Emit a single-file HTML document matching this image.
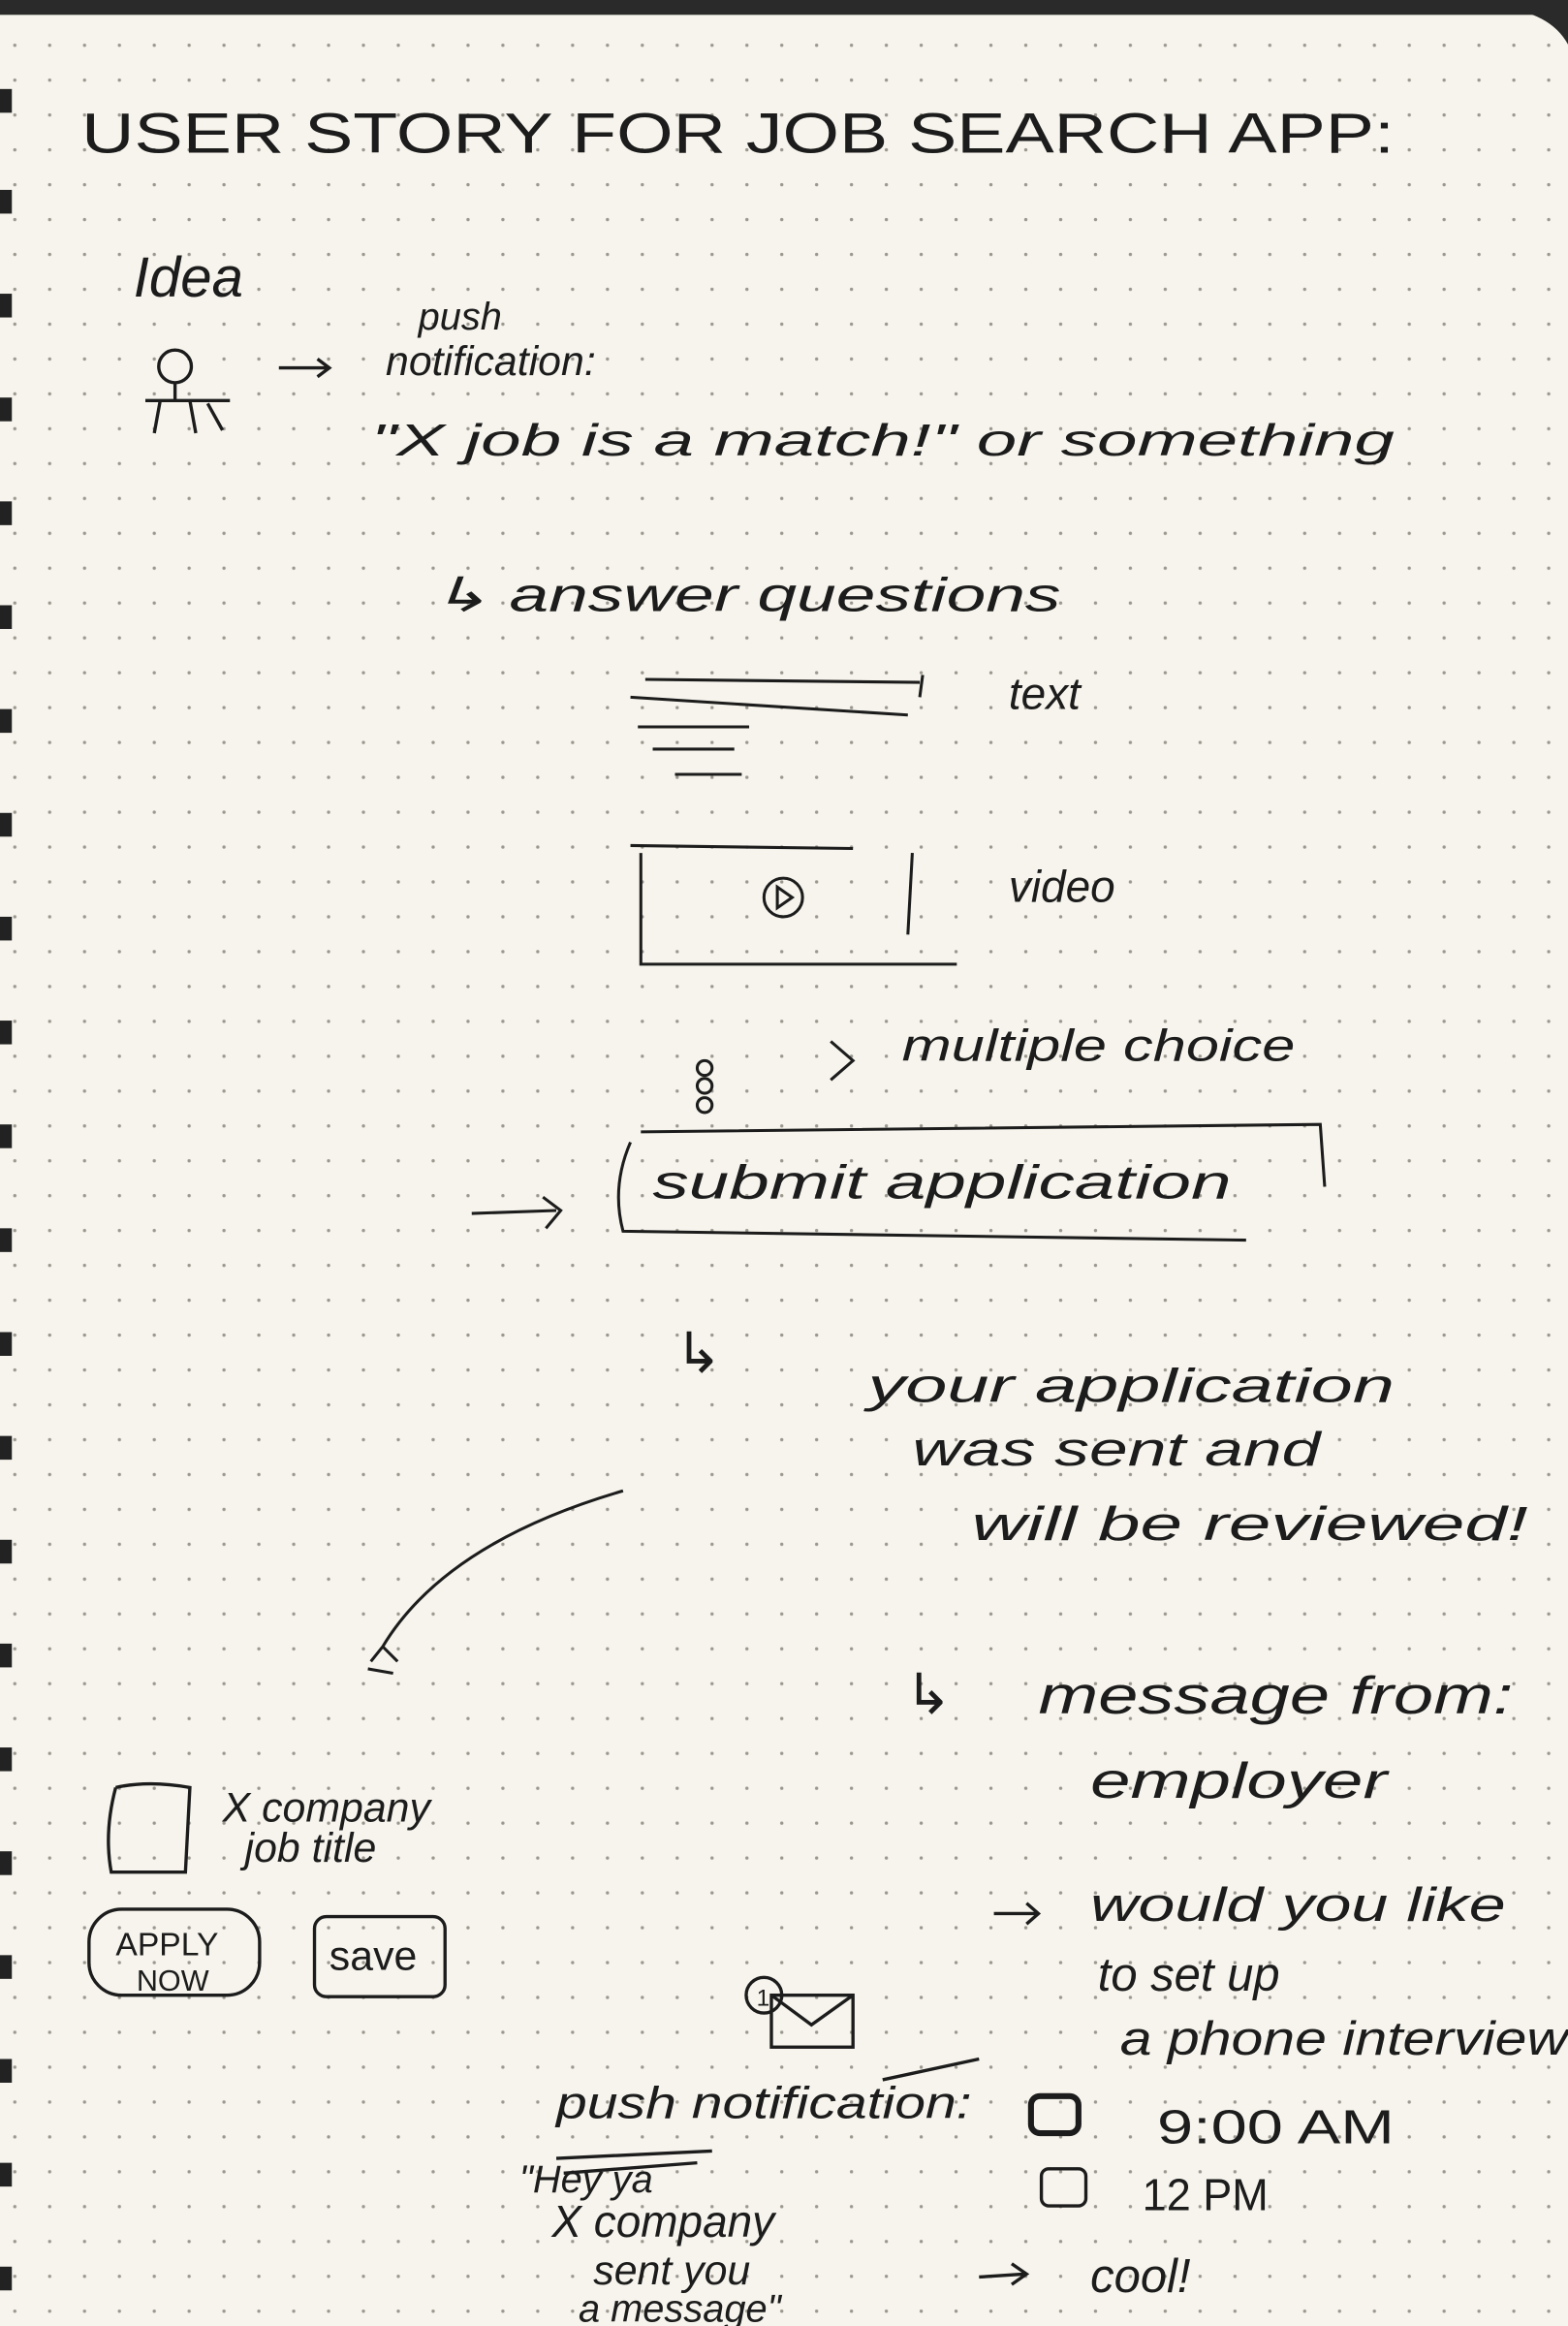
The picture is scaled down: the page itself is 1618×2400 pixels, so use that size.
<!DOCTYPE html>
<html><head><meta charset="utf-8"><style>
html,body{margin:0;padding:0;background:#f6f4ec;}
svg{display:block}
text{font-family:"Liberation Sans",sans-serif;fill:#1c1c1c;}
</style></head><body>
<svg width="1618" height="2400" viewBox="0 0 1057 1568" preserveAspectRatio="none" xmlns="http://www.w3.org/2000/svg">
<defs>
<pattern id="dots" x="8" y="5" width="23.5" height="23.5" patternUnits="userSpaceOnUse">
<circle cx="2" cy="2" r="1.1" fill="#9a978f"/>
</pattern>
</defs>
<rect width="1057" height="1568" fill="#f6f4ec"/>
<rect width="1057" height="1568" fill="url(#dots)"/>
<rect x="0" y="0" width="1057" height="10" fill="#2a2a2a"/>
<path d="M1010 0 L1057 0 L1057 30 Q1045 8 1010 5Z" fill="#2a2a2a"/>
<g fill="#222">
<rect x="0" y="60" width="8" height="16"/><rect x="0" y="128" width="8" height="16"/><rect x="0" y="198" width="8" height="16"/><rect x="0" y="268" width="8" height="16"/><rect x="0" y="338" width="8" height="16"/><rect x="0" y="408" width="8" height="16"/><rect x="0" y="478" width="8" height="16"/><rect x="0" y="548" width="8" height="16"/><rect x="0" y="618" width="8" height="16"/><rect x="0" y="688" width="8" height="16"/><rect x="0" y="758" width="8" height="16"/><rect x="0" y="828" width="8" height="16"/><rect x="0" y="898" width="8" height="16"/><rect x="0" y="968" width="8" height="16"/><rect x="0" y="1038" width="8" height="16"/><rect x="0" y="1108" width="8" height="16"/><rect x="0" y="1178" width="8" height="16"/><rect x="0" y="1248" width="8" height="16"/><rect x="0" y="1318" width="8" height="16"/><rect x="0" y="1388" width="8" height="16"/><rect x="0" y="1458" width="8" height="16"/><rect x="0" y="1528" width="8" height="16"/>
</g>

<text x="55" y="103" font-size="38" textLength="885" lengthAdjust="spacingAndGlyphs">USER STORY FOR JOB SEARCH APP:</text>
<text x="90" y="200" font-size="38" font-style="italic">Idea</text>
<!-- person -->
<g stroke="#1c1c1c" stroke-width="2.2" fill="none">
<circle cx="118" cy="247" r="11"/>
<path d="M118 258 L118 270 M98 270 L155 270 M108 270 L104 292 M128 270 L132 292 M140 272 L150 290"/>
<path d="M188 248 L222 248 M214 242 L222 248 L214 254"/>
</g>
<text x="282" y="222" font-size="26" font-style="italic">push</text>
<text x="260" y="253" font-size="28" font-style="italic">notification:</text>
<text x="250" y="307" font-size="30" font-style="italic" textLength="690" lengthAdjust="spacingAndGlyphs">"X job is a match!" or something</text>

<text x="290" y="412" font-size="32" font-style="italic" textLength="425" lengthAdjust="spacingAndGlyphs">↳ answer questions</text>
<g stroke="#1c1c1c" stroke-width="2" fill="none">
<path d="M435 458 L620 460 M622 455 L620 470 M425 470 L612 482 M430 490 L505 490 M440 505 L495 505 M455 522 L500 522"/>
<path d="M425 570 L575 572 M432 575 L432 650 L645 650 M615 575 L612 630"/>
<circle cx="528" cy="605" r="13"/>
<path d="M524 598 L534 605 L524 612Z"/>
<circle cx="475" cy="720" r="5"/><circle cx="475" cy="732" r="5"/><circle cx="475" cy="745" r="5"/>
<path d="M560 702 L575 715 L560 728"/>
<path d="M318 818 L375 816 M366 807 L378 816 L368 828"/>
<path d="M425 770 Q412 800 420 830 L840 836 M432 763 L890 758 L893 800"/>
<path d="M420 1005 Q300 1040 258 1110 M250 1120 L258 1110 L268 1120 M248 1125 L265 1128"/>
</g>
<text x="470" y="475" font-size="0"> </text>
<text x="680" y="478" font-size="30" font-style="italic">text</text>
<text x="680" y="608" font-size="30" font-style="italic">video</text>
<text x="608" y="715" font-size="30" font-style="italic" textLength="265" lengthAdjust="spacingAndGlyphs">multiple choice</text>
<text x="440" y="808" font-size="32" font-style="italic" textLength="390" lengthAdjust="spacingAndGlyphs">submit application</text>

<text x="455" y="925" font-size="38">↳</text>
<text x="585" y="945" font-size="32" font-style="italic" textLength="355" lengthAdjust="spacingAndGlyphs">your application</text>
<text x="615" y="988" font-size="32" font-style="italic" textLength="275" lengthAdjust="spacingAndGlyphs">was sent and</text>
<text x="655" y="1038" font-size="32" font-style="italic" textLength="375" lengthAdjust="spacingAndGlyphs">will be reviewed!</text>

<text x="610" y="1155" font-size="38">↳</text>
<text x="700" y="1155" font-size="36" font-style="italic" textLength="320" lengthAdjust="spacingAndGlyphs">message from:</text>
<text x="735" y="1212" font-size="34" font-style="italic" textLength="200" lengthAdjust="spacingAndGlyphs">employer</text>

<g stroke="#1c1c1c" stroke-width="2.2" fill="none">
<path d="M78 1205 Q70 1235 75 1262 L125 1262 L128 1205 Q100 1200 78 1205"/>
<rect x="60" y="1287" width="115" height="58" rx="22"/>
<rect x="212" y="1292" width="88" height="54" rx="8"/>
<rect x="520" y="1345" width="55" height="35"/>
<path d="M520 1345 L547 1365 L575 1345"/>
<circle cx="515" cy="1345" r="12"/>
<path d="M670 1290 L700 1290 M692 1283 L700 1290 L692 1297"/>
<rect x="695" y="1413" width="32" height="25" rx="6" stroke-width="4"/>
<rect x="702" y="1462" width="30" height="25" rx="5"/>
<path d="M375 1455 L480 1450 M380 1465 L470 1458"/>
<path d="M660 1535 L690 1533 M682 1526 L692 1533 L682 1540"/>
<path d="M595 1402 L660 1388"/>
</g>
<text x="150" y="1228" font-size="28" font-style="italic">X company</text>
<text x="165" y="1255" font-size="28" font-style="italic">job title</text>
<text x="78" y="1318" font-size="22">APPLY</text>
<text x="92" y="1342" font-size="20">NOW</text>
<text x="222" y="1328" font-size="28">save</text>
<text x="510" y="1352" font-size="16">1</text>

<text x="735" y="1295" font-size="32" font-style="italic" textLength="280" lengthAdjust="spacingAndGlyphs">would you like</text>
<text x="740" y="1342" font-size="32" font-style="italic">to set up</text>
<text x="755" y="1385" font-size="32" font-style="italic" textLength="302" lengthAdjust="spacingAndGlyphs">a phone interview</text>
<text x="375" y="1428" font-size="30" font-style="italic" textLength="280" lengthAdjust="spacingAndGlyphs">push notification:</text>
<text x="780" y="1445" font-size="32" textLength="160" lengthAdjust="spacingAndGlyphs">9:00 AM</text>
<text x="770" y="1490" font-size="30" textLength="85" lengthAdjust="spacingAndGlyphs">12 PM</text>
<text x="350" y="1478" font-size="26" font-style="italic">"Hey ya</text>
<text x="372" y="1508" font-size="30" font-style="italic">X company</text>
<text x="400" y="1540" font-size="28" font-style="italic">sent you</text>
<text x="390" y="1565" font-size="26" font-style="italic">a message"</text>
<text x="735" y="1545" font-size="32" font-style="italic">cool!</text>
</svg>
</body></html>
